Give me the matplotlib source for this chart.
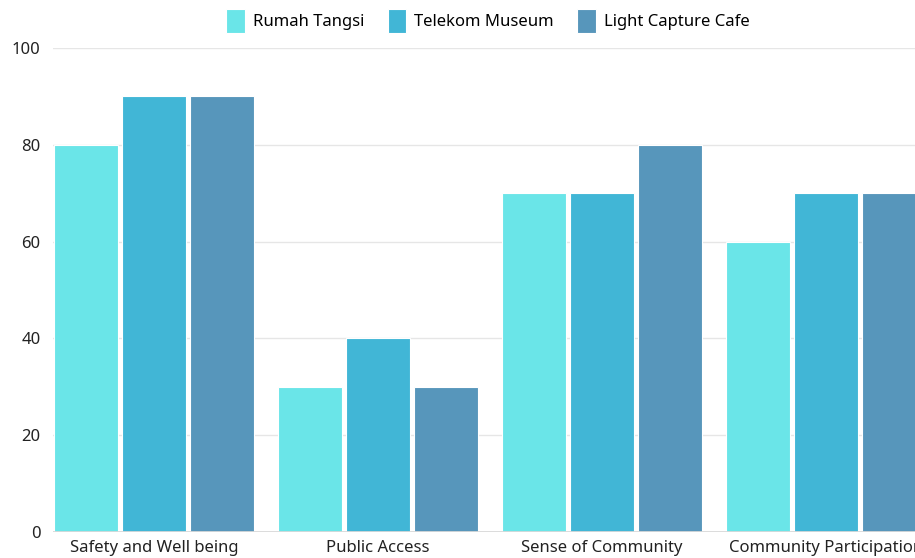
import matplotlib.pyplot as plt
import numpy as np

categories = ['Safety and Well being', 'Public Access', 'Sense of Community', 'Community Participation']
series_names = ['Rumah Tangsi', 'Telekom Museum', 'Light Capture Cafe']
rumah_tangsi = [80, 30, 70, 60]
telekom_museum = [90, 40, 70, 70]
light_capture = [90, 30, 80, 70]
yticks = [0, 20, 40, 60, 80, 100]

colors = ['#6ae5e8', '#41b6d6', '#5796bb']

plt.rcParams['font.family'] = ['Noto Sans', 'DejaVu Sans']

fig = plt.figure(figsize=(9.15, 5.58), dpi=100)
# axes runs a little past the right edge, like the cropped original
ax = fig.add_axes([53 / 915, 26 / 558, 874 / 915, 484 / 558])

x = np.arange(len(categories))
width = 0.286
step = 0.304
for i, (vals, name) in enumerate(zip([rumah_tangsi, telekom_museum, light_capture], series_names)):
    ax.bar(x + (i - 1) * step, vals, width, color=colors[i], label=name,
           edgecolor='white', linewidth=0.8, zorder=3)

ax.set_xlim(-0.451, 3.451)
ax.set_ylim(0, 100)
ax.set_yticks(yticks)
ax.set_xticks(x)
ax.set_xticklabels(categories, fontsize=12, color='#222222')
ax.tick_params(axis='y', labelsize=12, colors='#222222', length=0, pad=9)
ax.tick_params(axis='x', length=0, pad=6)
ax.grid(axis='y', color='#e6e6e6', linewidth=1, zorder=0)
ax.axhline(0, color='#d9d9d9', linewidth=2, zorder=4)
for s in ax.spines.values():
    s.set_visible(False)

fig.legend(loc='center', bbox_to_anchor=(488 / 915, 1 - 21 / 558), ncol=3,
           frameon=False, fontsize=12, handlelength=1.1, handleheight=1.9,
           columnspacing=1.4, handletextpad=0.5)

fig.savefig('out.png', dpi=100)
